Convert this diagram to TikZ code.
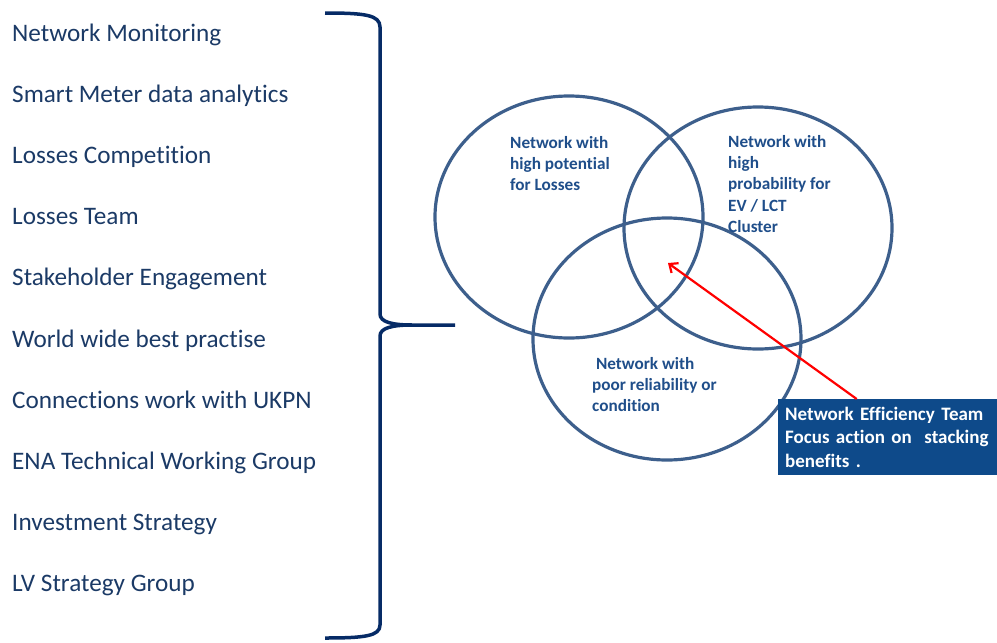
\documentclass[tikz,border=0pt]{standalone}
\usepackage{fontspec}
\setmainfont{Carlito}[Ligatures=NoCommon]
\usepackage{tikz}
\usetikzlibrary{positioning}
\usetikzlibrary{calc}
\usetikzlibrary{arrows.meta,shapes.geometric,backgrounds}

\definecolor{listblue}{HTML}{1B3A66}
\definecolor{bracenavy}{HTML}{062B66}
\definecolor{vennline}{HTML}{3D5F8C}
\definecolor{venntext}{HTML}{1F4E8A}
\definecolor{boxblue}{HTML}{0E4A8A}

\begin{document}
\begin{tikzpicture}[x=1pt,y=-1pt,
  item/.style={anchor=base west,inner sep=0pt,text=listblue,
    font=\fontsize{25.2}{29}\selectfont},
  venn/.style={draw=vennline,line width=3.2pt,ellipse,
    minimum width=268pt,minimum height=242pt},
  venntxt/.style={anchor=north west,inner sep=0pt,align=left,text=venntext,
    font=\bfseries\fontsize{17.2}{21.3}\selectfont},
  effbox/.style={anchor=north west,fill=boxblue,text=white,align=left,
    text width=205pt,inner xsep=7pt,inner ysep=6pt,minimum height=76pt,
    font=\bfseries\fontsize{19}{23.8}\selectfont},
  pointer/.style={-{Straight Barb[length=7pt,width=12pt]},red,line width=2.2pt}]
\useasboundingbox (0,0) rectangle (997,643);

%lista dzialan
\foreach \t [count=\i] in {Network Monitoring,Smart Meter data analytics,
  Losses Competition,Losses Team,Stakeholder Engagement,
  World wide best practise,Connections work with UKPN,
  ENA Technical Working Group,Investment Strategy,LV Strategy Group}
  \node[item] (item\i) at (12,{41+61.2*(\i-1)}) {\t};

%klamra
\draw[bracenavy,line width=3.5pt]
  (325,13) .. controls (365,13) and (380,15) .. (380,27) -- (380,314)
  .. controls (380,322) and (392,325) .. (412,325) -- (455,325);
\draw[bracenavy,line width=3.5pt]
  (412,325) .. controls (392,325) and (380,328) .. (380,336) -- (380,625)
  .. controls (380,636) and (365,638) .. (325,638);

%diagram Venna
\node[venn] (losses) at (569,217) {};
\node[venn] (cluster) at (758,228) {};
\node[venn] (reliab) at (667,339) {};

\node[venntxt] (losstxt) at (510,136) {Network with\\high potential\\for Losses};
\node[venntxt] (clustertxt) at (728,135) {Network with\\high\\probability for\\EV / LCT\\Cluster};
\node[venntxt] (reliabtxt) at (592,357) {\ Network with\\poor reliability or\\condition};

%zespol
\node[effbox] (team) at (778,399) {Network Efficiency Team\\Focus action on\ \ stacking\\benefits .};
\coordinate (focus) at (668,263);
\draw[pointer] ([xshift=-31pt]team.north) -- (focus);
\end{tikzpicture}
\end{document}
